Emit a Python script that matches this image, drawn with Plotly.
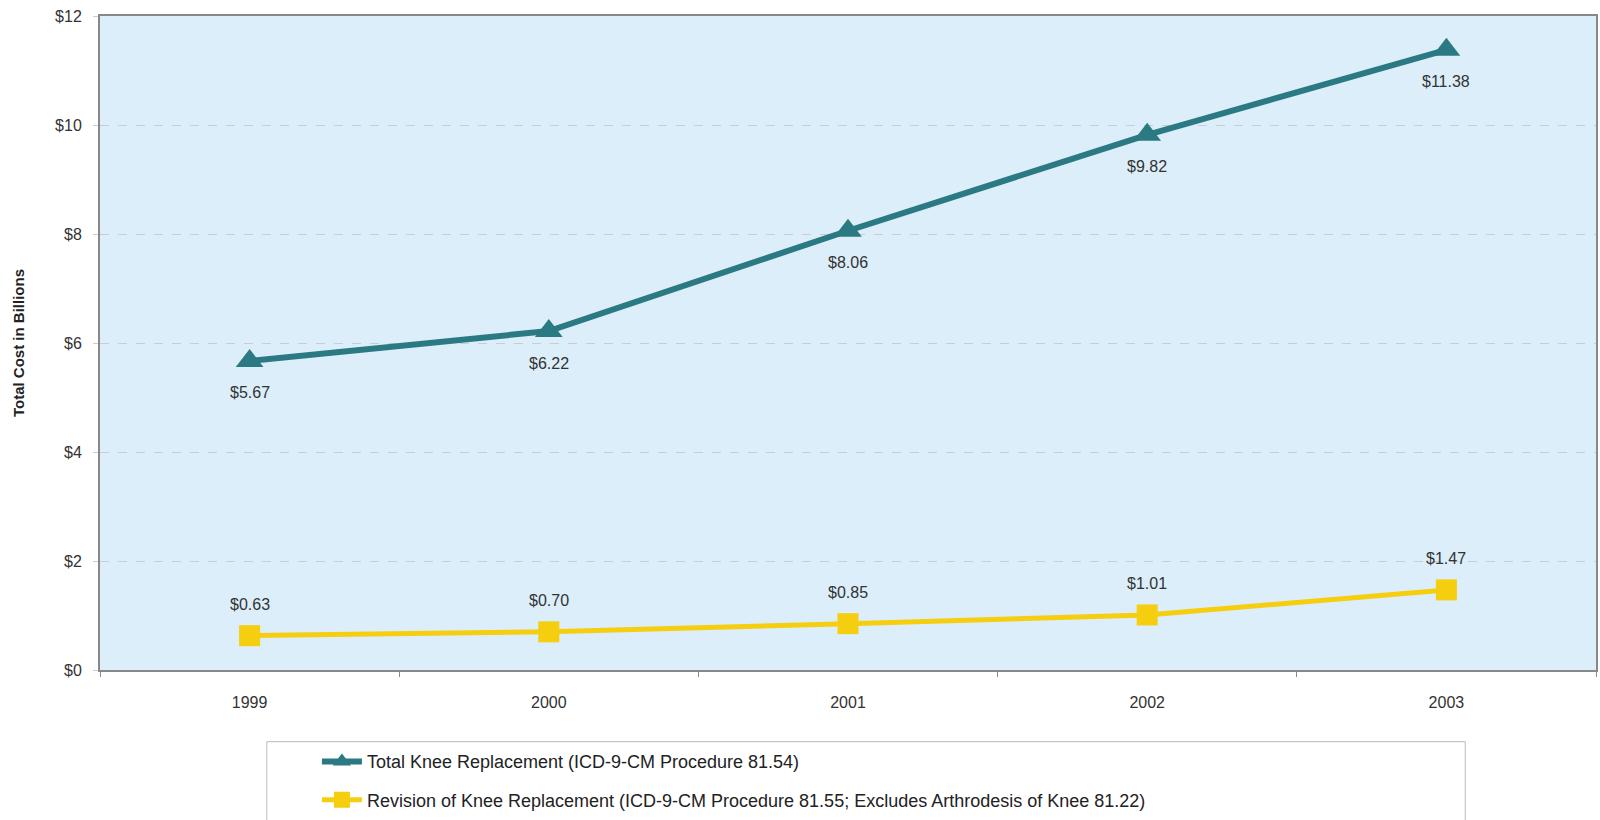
import plotly.graph_objects as go

years = ["1999", "2000", "2001", "2002", "2003"]
total_knee = [5.67, 6.22, 8.06, 9.82, 11.38]
revision_knee = [0.63, 0.70, 0.85, 1.01, 1.47]
total_name = "Total Knee Replacement (ICD-9-CM Procedure 81.54)"
revision_name = "Revision of Knee Replacement (ICD-9-CM Procedure 81.55; Excludes Arthrodesis of Knee 81.22)"
y_ticks = [0, 2, 4, 6, 8, 10, 12]
y_tick_text = ["$" + str(v) for v in y_ticks]

teal = "#2B7A83"
yellow = "#F5CE10"
font = "Liberation Sans, Arial, sans-serif"

fig = go.Figure()
fig.add_trace(go.Scatter(
    x=years, y=total_knee, name=total_name, mode="lines+markers",
    legendgroup="a",
    line=dict(color=teal, width=6),
    marker=dict(symbol="triangle-up", size=24, color=teal),
))
fig.add_trace(go.Scatter(
    x=years, y=revision_knee, name=revision_name, mode="lines+markers",
    legendgroup="b",
    line=dict(color=yellow, width=5),
    marker=dict(symbol="square", size=21, color=yellow),
))

for i, v in enumerate(total_knee):
    fig.add_annotation(x=i, y=v, xref="x", yref="y", text="$%.2f" % v, showarrow=False,
                       yshift=-32, font=dict(size=16, color="#333333", family=font))
for i, v in enumerate(revision_knee):
    fig.add_annotation(x=i, y=v, xref="x", yref="y", text="$%.2f" % v, showarrow=False,
                       yshift=31, font=dict(size=16, color="#333333", family=font))

fig.add_shape(type="rect", xref="paper", yref="paper",
              x0=0.1115, x1=0.9126, y0=-0.1096, y1=-0.24,
              line=dict(color="#BBBBBB", width=1), fillcolor="rgba(0,0,0,0)")

fig.update_layout(
    width=1600, height=820,
    margin=dict(l=100, r=2, t=16, b=145),
    paper_bgcolor="white", plot_bgcolor="#DCEEF9",
    font=dict(family=font, color="#333333", size=16),
    showlegend=True,
    legend=dict(x=0.145, y=-0.112, xanchor="left", yanchor="top",
                font=dict(size=18, color="#222222", family=font),
                bgcolor="rgba(0,0,0,0)", traceorder="grouped", tracegroupgap=12,
                itemwidth=40),
    xaxis=dict(type="category", range=[-0.5, 4.5], tickson="boundaries", ticks="outside", ticklen=5,
               tickcolor="#888888", showgrid=False, showline=True, linecolor="#888888",
               linewidth=2, mirror=True, tickfont=dict(size=16, color="#333333"),
               ticklabelstandoff=17),
    yaxis=dict(range=[0, 12], tickvals=y_ticks, ticktext=y_tick_text,
               showgrid=True, gridcolor="#C8CDD2", griddash="dash", gridwidth=1,
               showline=True, linecolor="#888888", linewidth=2, mirror=True,
               ticks="outside", ticklen=5, tickcolor="#CCCCCC",
               zeroline=False, tickfont=dict(size=16, color="#333333"),
               ticklabelstandoff=8,
               title=dict(text="<b>Total Cost in Billions</b>", font=dict(size=15, color="#222222"),
                          standoff=27)),
)

fig.write_html("out.html")
